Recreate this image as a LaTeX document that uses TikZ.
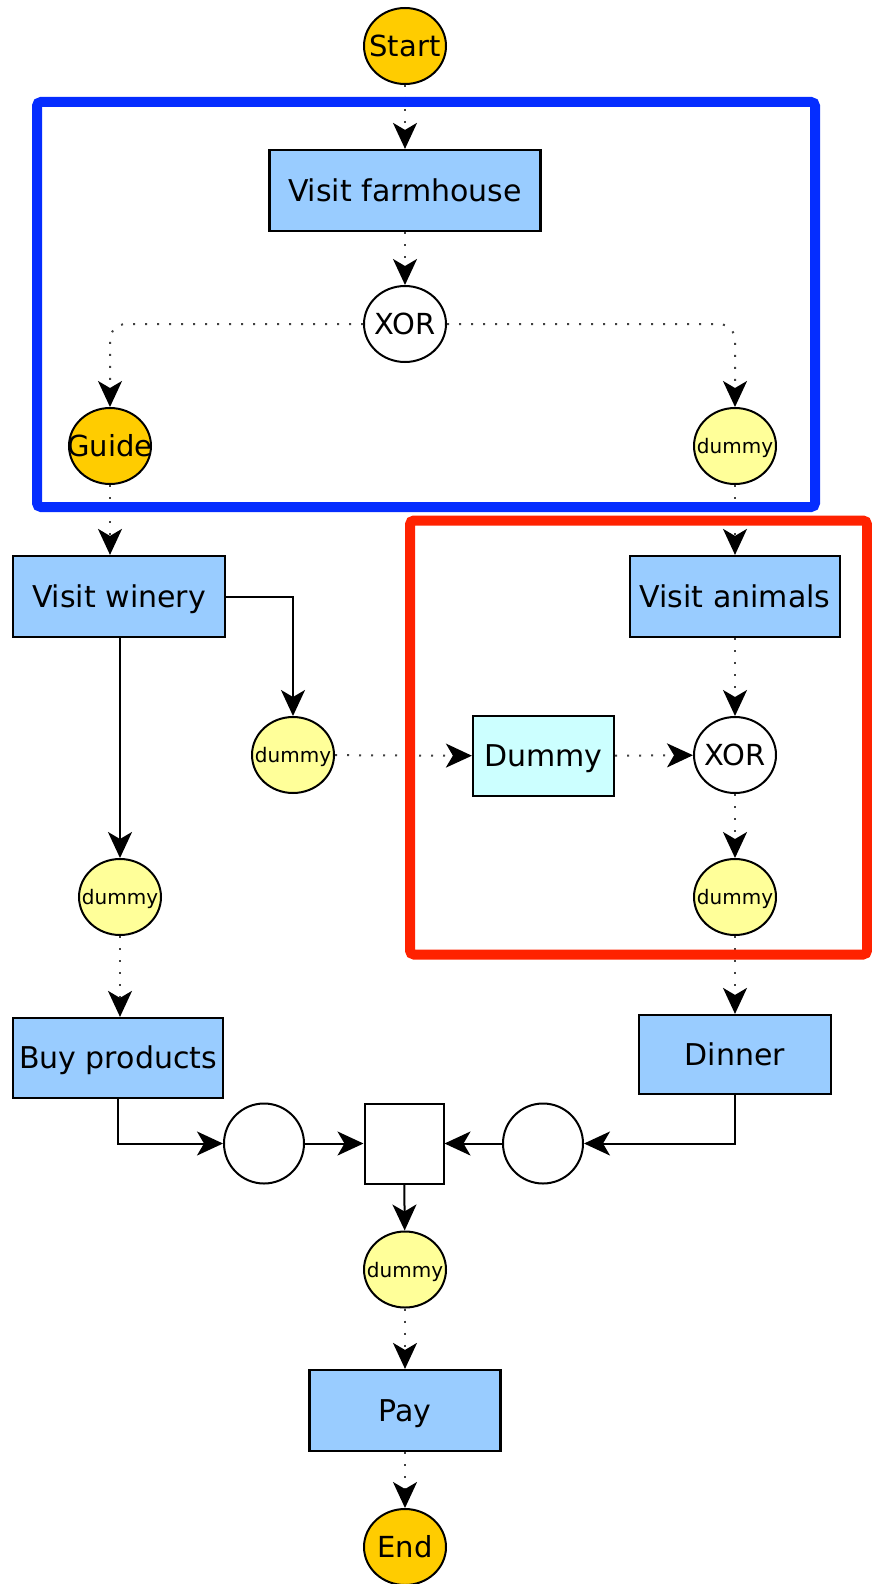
\documentclass[tikz,border=0pt]{standalone}
\usepackage{fontspec}
\setmainfont{DejaVu Sans}
\usetikzlibrary{arrows.meta,shapes.geometric}
\definecolor{taskblue}{RGB}{153,204,255}
\definecolor{startyel}{RGB}{255,204,0}
\definecolor{dummyyel}{RGB}{255,255,153}
\definecolor{dummycyan}{RGB}{204,255,255}
\definecolor{frameblue}{RGB}{5,45,255}
\definecolor{framered}{RGB}{255,34,0}
\newcommand\zl[1]{\makebox[0pt]{#1}}
\tikzset{
  task/.style={draw=black, line width=2.2pt, fill=taskblue, rectangle, inner sep=0pt,
    font=\fontsize{30}{30}\selectfont, text height=21.9pt, text depth=0pt},
  place/.style={draw=black, line width=2pt, ellipse, minimum width=82pt, minimum height=76pt,
    inner sep=0pt, font=\fontsize{29}{29}\selectfont, text height=21.2pt, text depth=0pt},
  ev/.style={place, fill=startyel},
  gate/.style={place, fill=white},
  dmy/.style={place, fill=dummyyel, font=\fontsize{20}{20}\selectfont, text height=15pt},
  blank/.style={draw=black, line width=2pt, fill=white, ellipse, minimum width=80pt, minimum height=80pt, inner sep=0pt},
  sedge/.style={line width=2pt, draw=black, -{Stealth[length=26pt,width=24pt,inset=7pt,color=black]}},
  dedge/.style={sedge, draw=black!75, dash pattern=on 2pt off 10pt},
  frame/.style={line width=10pt, rounded corners=4pt}
}
\begin{document}
\begin{tikzpicture}[x=1pt,y=-1pt]
\useasboundingbox (0,0) rectangle (872,1584);

% nodes
\node[ev] (start) at (405,46) {\zl{Start}};
\node[task, minimum width=271pt, minimum height=81pt] (vf) at (405,190.5) {Visit farmhouse};
\node[gate] (xor1) at (405,324) {\zl{XOR}};
\node[ev] (guide) at (110,446) {\zl{Guide}};
\node[dmy] (d1) at (735,446) {\zl{dummy}};
\node[task, minimum width=212pt, minimum height=81pt] (winery) at (119,596.5) {Visit winery};
\node[task, minimum width=210pt, minimum height=81pt] (va) at (735,596.5) {Visit animals};
\node[dmy] (dm) at (293,755) {\zl{dummy}};
\node[task, fill=dummycyan, minimum width=141pt, minimum height=80pt] (dum) at (543.5,756) {Dummy};
\node[gate] (xor2) at (735,755) {\zl{XOR}};
\node[dmy] (dl) at (120,897) {\zl{dummy}};
\node[dmy] (d3) at (735,897) {\zl{dummy}};
\node[task, minimum width=210pt, minimum height=80pt] (buy) at (118,1058) {Buy products};
\node[task, minimum width=192pt, minimum height=79pt] (dinner) at (735,1054.5) {Dinner};
\node[blank] (c1) at (264,1143.5) {};
\node[draw=black, line width=2pt, fill=white, rectangle, minimum width=79pt, minimum height=80pt, inner sep=0pt] (sq) at (404,1143.5) {};
\node[blank] (c2) at (543,1143.5) {};
\node[dmy] (db) at (405,1269.5) {\zl{dummy}};
\node[task, minimum width=191pt, minimum height=81pt] (pay) at (405,1410.5) {Pay};
\node[ev] (end) at (405,1547) {\zl{End}};

% connectors
\draw[dedge] (start) -- (vf);
\draw[dedge] (vf) -- (xor1);
\draw[dedge, rounded corners=16pt] (xor1.west) -| (guide.north);
\draw[dedge, rounded corners=16pt] (xor1.east) -| (d1.north);
\draw[dedge] (guide.south) -- (guide.south |- winery.north);
\draw[dedge] (d1) -- (va);
\draw[sedge] (winery.east) -| (dm.north);
\draw[sedge] (winery.south -| dl.north) -- (dl.north);
\draw[dedge] (dm) -- (dum);
\draw[dedge] (dum) -- (xor2);
\draw[dedge] (va) -- (xor2);
\draw[dedge] (xor2) -- (d3);
\draw[dedge] (dl) -- (dl |- buy.north);
\draw[dedge] (d3) -- (dinner);
\draw[sedge] (buy.south) |- (c1.west);
\draw[sedge] (c1) -- (sq);
\draw[sedge] (dinner.south) |- (c2.east);
\draw[sedge] (c2) -- (sq);
\draw[sedge] (sq) -- (db);
\draw[dedge] (db) -- (pay);
\draw[dedge] (pay) -- (end);

% frames
\draw[frame, draw=frameblue] (37,102) rectangle (815,507);
\draw[frame, draw=framered] (410,520.5) rectangle (867,954.5);
\end{tikzpicture}
\end{document}
